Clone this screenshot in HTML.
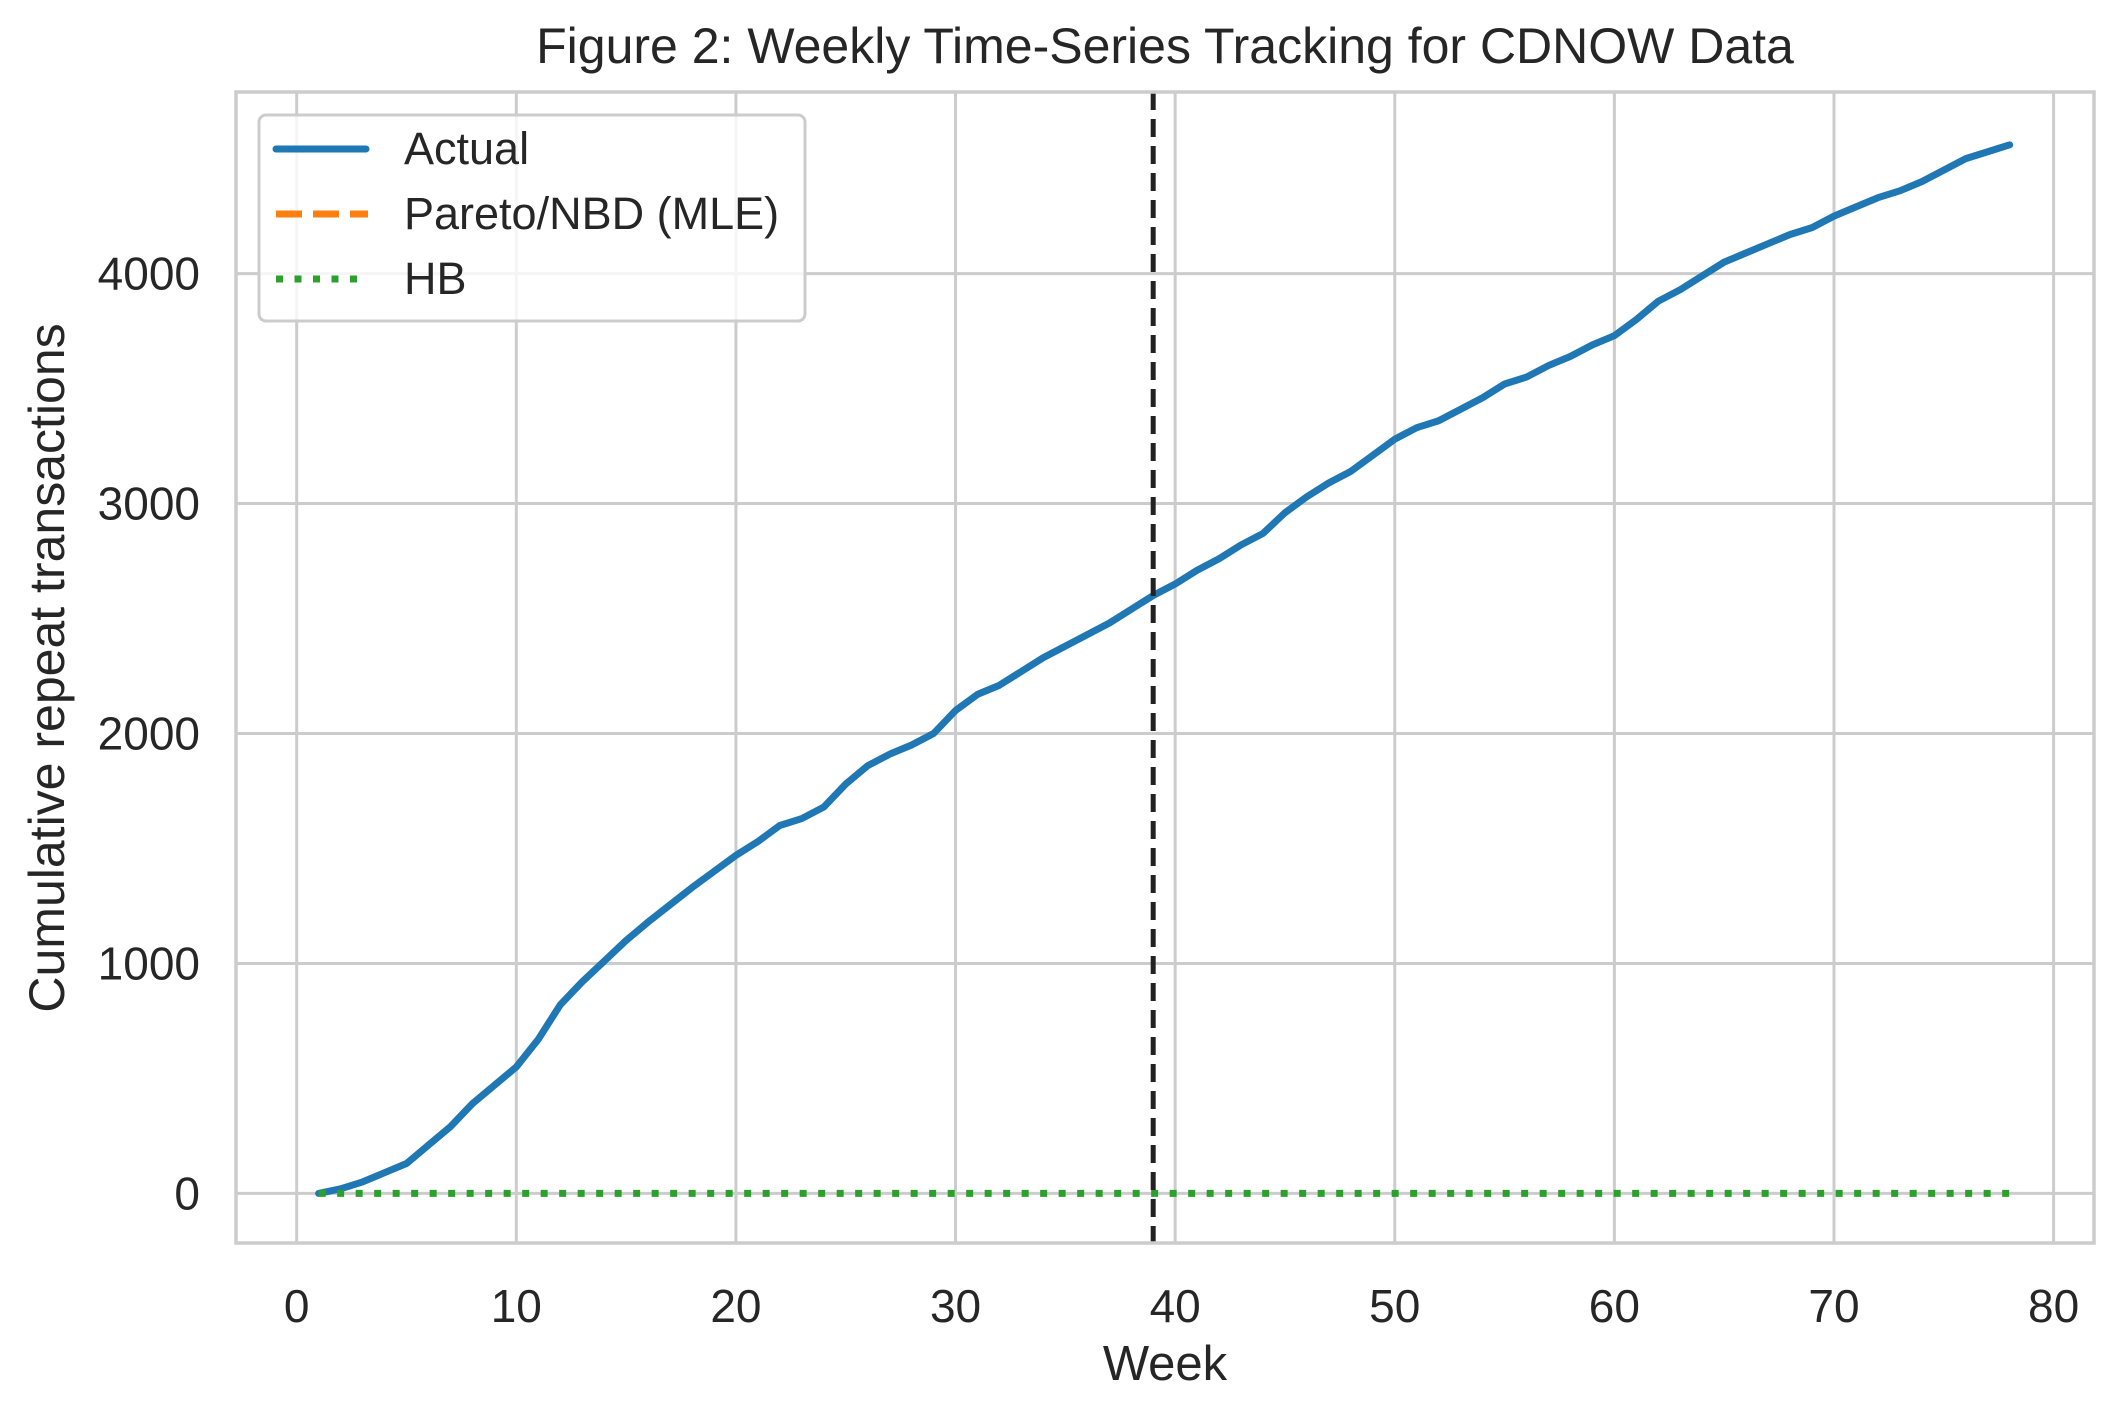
<!DOCTYPE html>
<html><head><meta charset="utf-8"><style>
body{margin:0;background:#fff}
svg{display:block;font-family:"Liberation Sans",Arial,sans-serif}
</style></head><body>
<svg id="chart" width="2124" height="1419" xmlns="http://www.w3.org/2000/svg">
<rect width="2124" height="1419" fill="#fff"/>
<g id="grid"></g>
<g id="series"></g>
<g id="ticks"></g>
<rect x="236" y="92" width="1858" height="1151" fill="none" stroke="#ccc" stroke-width="3.5"/>
<text x="1165" y="63" font-size="50" text-anchor="middle" fill="#262626">Figure 2: Weekly Time-Series Tracking for CDNOW Data</text>
<text x="1165" y="1380" font-size="49" text-anchor="middle" fill="#262626">Week</text>
<text transform="translate(64,668) rotate(-90)" font-size="50" text-anchor="middle" fill="#262626">Cumulative repeat transactions</text>
<g>
<rect x="259" y="115" width="546" height="206" rx="7" fill="#fff" fill-opacity="0.8" stroke="#ccc" stroke-width="3"/>
<line x1="276" y1="149" x2="366" y2="149" stroke="#1f77b4" stroke-width="7" stroke-linecap="round"/>
<text x="404" y="164" font-size="45" fill="#262626">Actual</text>
<line x1="276" y1="214" x2="368" y2="214" stroke="#ff7f0e" stroke-width="7" stroke-dasharray="26,11"/>
<text x="404" y="229" font-size="45" fill="#262626">Pareto/NBD (MLE)</text>
<line x1="276" y1="279" x2="368" y2="279" stroke="#2ca02c" stroke-width="7" stroke-dasharray="7,11.5"/>
<text x="404" y="294" font-size="45" fill="#262626">HB</text>
</g>
</svg>
<script>
const weeks=[];for(let i=1;i<=78;i++)weeks.push(i);
const actual=[0,20,50,90,130,210,290,390,470,550,670,820,920,1010,1100,1180,1255,1330,1400,1470,1530,1600,1630,1680,1780,1860,1910,1950,2000,2100,2170,2210,2270,2330,2380,2430,2480,2540,2600,2650,2710,2760,2820,2870,2960,3030,3090,3140,3210,3280,3330,3360,3410,3460,3520,3550,3600,3640,3690,3730,3800,3880,3930,3990,4050,4090,4130,4170,4200,4250,4290,4330,4360,4400,4450,4500,4530,4560];
const pareto=weeks.map(()=>0);
const hb=weeks.map(()=>0);
const xTicks=[0,10,20,30,40,50,60,70,80];
const yTicks=[0,1000,2000,3000,4000];
const splitWeek=39;
const NS="http://www.w3.org/2000/svg";
const X=v=>296.7+(v-0)*(2053.6-296.7)/80;
const Y=v=>1193.4-v*(1193.4-273.6)/4000;
function mk(tag,attrs,parent){const e=document.createElementNS(NS,tag);for(const k in attrs)e.setAttribute(k,attrs[k]);parent.appendChild(e);return e;}
const grid=document.getElementById('grid'),ticks=document.getElementById('ticks'),series=document.getElementById('series');
xTicks.forEach(t=>{
 const l=mk('line',{x1:X(t),x2:X(t),y1:92,y2:1243,stroke:'#ccc','stroke-width':3},grid);
 
 
 const tx=mk('text',{x:X(t),y:1322,'font-size':46,'text-anchor':'middle',fill:'#262626'},ticks);
 tx.textContent=t;
 
 
});
yTicks.forEach(t=>{
 const l=mk('line',{x1:236,x2:2094,y1:Y(t),y2:Y(t),stroke:'#ccc','stroke-width':3},grid);
 
 
 const tx=mk('text',{x:200,y:Y(t)+16,'font-size':46,'text-anchor':'end',fill:'#262626'},ticks);
 tx.textContent=t;
 
 
});
const pts=arr=>arr.map((v,i)=>X(weeks[i])+','+Y(v)).join(' ');
const a=mk('polyline',{points:pts(actual),fill:'none',stroke:'#1f77b4','stroke-width':7,'stroke-linejoin':'round','stroke-linecap':'round'},series);


const p=mk('polyline',{points:pts(pareto),fill:'none',stroke:'#ff7f0e','stroke-width':6,'stroke-opacity':0,'stroke-dasharray':'26,11'},series);


const h=mk('polyline',{points:pts(hb),fill:'none',stroke:'#2ca02c','stroke-width':7,'stroke-dasharray':'7,11.5'},series);


const v=mk('line',{x1:X(splitWeek),x2:X(splitWeek),y1:92,y2:1243,stroke:'#222','stroke-width':5,'stroke-dasharray':'18,9'},series);


</script>
</body></html>
